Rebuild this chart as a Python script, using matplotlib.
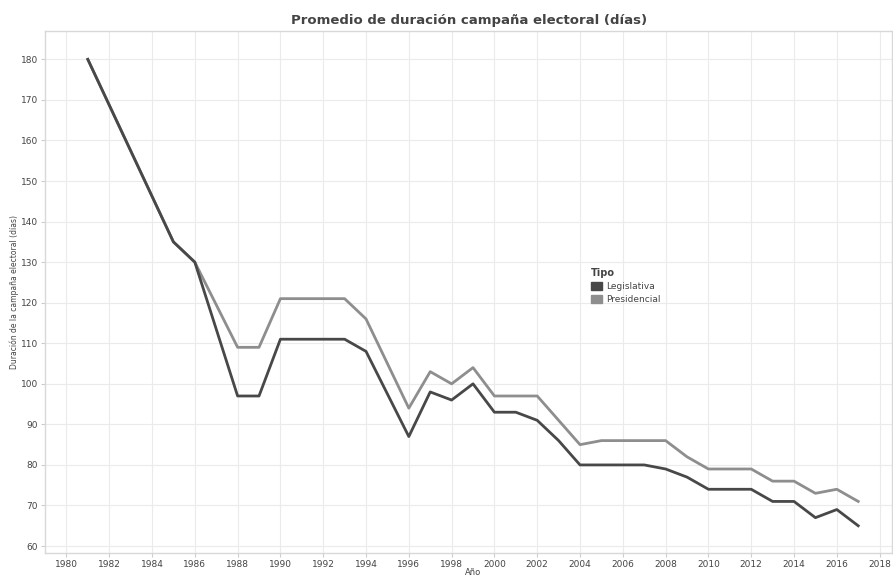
import matplotlib.pyplot as plt
from matplotlib.patches import Patch

# years and average campaign length (days) per type
years_leg = [1981, 1985, 1986, 1988, 1989, 1990, 1993, 1994, 1996, 1997, 1998, 1999, 2000, 2001,
             2002, 2003, 2004, 2007, 2008, 2009, 2010, 2012, 2013, 2014, 2015, 2016, 2017]
dias_leg = [180, 135, 130, 97, 97, 111, 111, 108, 87, 98, 96, 100, 93, 93,
            91, 86, 80, 80, 79, 77, 74, 74, 71, 71, 67, 69, 65]

years_pres = [1981, 1985, 1986, 1988, 1989, 1990, 1993, 1994, 1996, 1997, 1998, 1999, 2000,
              2002, 2004, 2005, 2008, 2009, 2010, 2012, 2013, 2014, 2015, 2016, 2017]
dias_pres = [180, 135, 130, 109, 109, 121, 121, 116, 94, 103, 100, 104, 97,
             97, 85, 86, 86, 82, 79, 79, 76, 76, 73, 74, 71]

x_ticks = list(range(1980, 2019, 2))
y_ticks = list(range(60, 181, 10))

col_leg = '#484848'
col_pres = '#8e8e8e'
grid_col = '#ebebeb'
text_col = '#444444'

fig = plt.figure(figsize=(8.93, 5.79), dpi=100)
ax = fig.add_axes([0.0504, 0.045, 0.949, 0.9015])

ax.plot(years_pres, dias_pres, color=col_pres, lw=2.0, zorder=3)
ax.plot(years_leg, dias_leg, color=col_leg, lw=2.0, zorder=4)

ax.set_xlim(1979, 2018.6)
ax.set_ylim(58.3, 187)
ax.set_xticks(x_ticks)
ax.set_yticks(y_ticks)
ax.grid(True, color=grid_col, lw=0.8)
ax.set_axisbelow(True)
for s in ax.spines.values():
    s.set_color('#d8d8d8')
    s.set_linewidth(1.0)
ax.tick_params(axis='both', labelsize=6.5, colors='#cccccc', labelcolor=text_col, length=3, width=0.8, pad=2)

ax.set_title('Promedio de duración campaña electoral (días)', fontsize=9.5, color=text_col,
             fontweight='semibold', pad=5)
ax.set_ylabel('Duración de la campaña electoral (días)', fontsize=5.5, color=text_col, labelpad=1)
fig.text(0.53, 0.003, 'Año', fontsize=6, color=text_col, ha='center', va='bottom')

handles = [Patch(facecolor=col_leg, edgecolor=col_leg, label='Legislativa'),
           Patch(facecolor=col_pres, edgecolor=col_pres, label='Presidencial')]
leg = fig.legend(handles=handles, title='Tipo', loc='upper left', bbox_to_anchor=(0.655, 0.548),
                 frameon=False, fontsize=6.5, title_fontsize=7, handlelength=1.2, handleheight=1.1,
                 handletextpad=0.5, labelspacing=0.4, borderpad=0.2)
leg.get_title().set_fontweight('bold')
leg.get_title().set_color(text_col)
leg._legend_box.align = 'left'
for t in leg.get_texts():
    t.set_color(text_col)

fig.savefig('out.png', dpi=100)
